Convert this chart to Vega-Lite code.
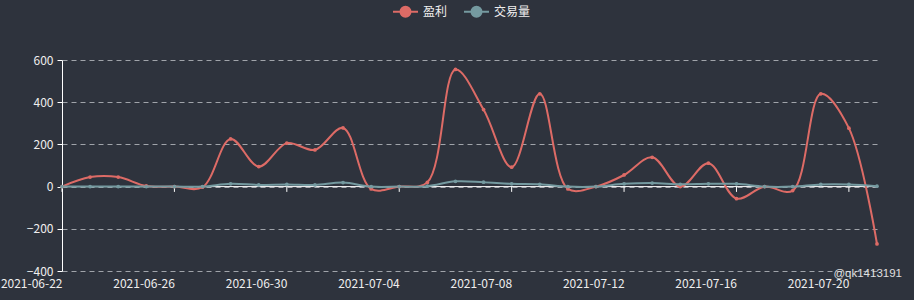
{
  "$schema": "https://vega.github.io/schema/vega-lite/v6.json",
  "autosize": {"type": "none"},
  "width": 815,
  "height": 211,
  "padding": {"left": 62, "top": 60, "right": 37, "bottom": 29},
  "background": "#2e333d",
  "config": {
    "font": "Noto Sans CJK SC",
    "view": {"stroke": null},
    "axis": {"labelFont": "Noto Sans CJK SC", "labelColor": "#eeeeee", "labelFontSize": 12}
  },
  "datasets": {
    "main": [
      {"date": "2021-06-22", "series": "盈利", "value": 0},
      {"date": "2021-06-23", "series": "盈利", "value": 45},
      {"date": "2021-06-24", "series": "盈利", "value": 45},
      {"date": "2021-06-25", "series": "盈利", "value": 3},
      {"date": "2021-06-26", "series": "盈利", "value": 0},
      {"date": "2021-06-27", "series": "盈利", "value": -3},
      {"date": "2021-06-28", "series": "盈利", "value": 226},
      {"date": "2021-06-29", "series": "盈利", "value": 95},
      {"date": "2021-06-30", "series": "盈利", "value": 206},
      {"date": "2021-07-01", "series": "盈利", "value": 174},
      {"date": "2021-07-02", "series": "盈利", "value": 278},
      {"date": "2021-07-03", "series": "盈利", "value": -11},
      {"date": "2021-07-04", "series": "盈利", "value": 0},
      {"date": "2021-07-05", "series": "盈利", "value": 20},
      {"date": "2021-07-06", "series": "盈利", "value": 555},
      {"date": "2021-07-07", "series": "盈利", "value": 365},
      {"date": "2021-07-08", "series": "盈利", "value": 92},
      {"date": "2021-07-09", "series": "盈利", "value": 440},
      {"date": "2021-07-10", "series": "盈利", "value": -11},
      {"date": "2021-07-11", "series": "盈利", "value": 0},
      {"date": "2021-07-12", "series": "盈利", "value": 55},
      {"date": "2021-07-13", "series": "盈利", "value": 139},
      {"date": "2021-07-14", "series": "盈利", "value": 0},
      {"date": "2021-07-15", "series": "盈利", "value": 111},
      {"date": "2021-07-16", "series": "盈利", "value": -57},
      {"date": "2021-07-17", "series": "盈利", "value": 0},
      {"date": "2021-07-18", "series": "盈利", "value": -19},
      {"date": "2021-07-19", "series": "盈利", "value": 440},
      {"date": "2021-07-20", "series": "盈利", "value": 277},
      {"date": "2021-07-21", "series": "盈利", "value": -272},
      {"date": "2021-06-22", "series": "交易量", "value": 0},
      {"date": "2021-06-23", "series": "交易量", "value": 0},
      {"date": "2021-06-24", "series": "交易量", "value": 0},
      {"date": "2021-06-25", "series": "交易量", "value": 0},
      {"date": "2021-06-26", "series": "交易量", "value": 0},
      {"date": "2021-06-27", "series": "交易量", "value": 0},
      {"date": "2021-06-28", "series": "交易量", "value": 13},
      {"date": "2021-06-29", "series": "交易量", "value": 8},
      {"date": "2021-06-30", "series": "交易量", "value": 10},
      {"date": "2021-07-01", "series": "交易量", "value": 8},
      {"date": "2021-07-02", "series": "交易量", "value": 19},
      {"date": "2021-07-03", "series": "交易量", "value": 0},
      {"date": "2021-07-04", "series": "交易量", "value": 0},
      {"date": "2021-07-05", "series": "交易量", "value": 2},
      {"date": "2021-07-06", "series": "交易量", "value": 25},
      {"date": "2021-07-07", "series": "交易量", "value": 21},
      {"date": "2021-07-08", "series": "交易量", "value": 13},
      {"date": "2021-07-09", "series": "交易量", "value": 11},
      {"date": "2021-07-10", "series": "交易量", "value": 0},
      {"date": "2021-07-11", "series": "交易量", "value": 0},
      {"date": "2021-07-12", "series": "交易量", "value": 13},
      {"date": "2021-07-13", "series": "交易量", "value": 17},
      {"date": "2021-07-14", "series": "交易量", "value": 11},
      {"date": "2021-07-15", "series": "交易量", "value": 13},
      {"date": "2021-07-16", "series": "交易量", "value": 13},
      {"date": "2021-07-17", "series": "交易量", "value": 0},
      {"date": "2021-07-18", "series": "交易量", "value": 0},
      {"date": "2021-07-19", "series": "交易量", "value": 10},
      {"date": "2021-07-20", "series": "交易量", "value": 10},
      {"date": "2021-07-21", "series": "交易量", "value": 2}
    ],
    "ticks": [
      {"date": "2021-06-22"}, {"date": "2021-06-26"}, {"date": "2021-06-30"},
      {"date": "2021-07-04"}, {"date": "2021-07-08"}, {"date": "2021-07-12"},
      {"date": "2021-07-16"}, {"date": "2021-07-20"}
    ]
  },
  "layer": [
    {
      "data": {"name": "ticks"},
      "mark": {"type": "rule", "color": "#ffffff", "strokeWidth": 1},
      "encoding": {
        "x": {"field": "date", "type": "ordinal"},
        "y": {"datum": 0, "type": "quantitative"},
        "y2": {"datum": -25}
      }
    },
    {
      "data": {"values": [{"zero": 0}]},
      "mark": {"type": "rule", "color": "#ffffff", "strokeWidth": 1},
      "encoding": {"y": {"field": "zero", "type": "quantitative"}}
    },
    {
      "data": {"name": "main"},
      "mark": {"type": "line", "interpolate": "catmull-rom", "strokeWidth": 2, "point": {"filled": true, "size": 14}},
      "encoding": {
        "x": {
          "field": "date", "type": "ordinal",
          "scale": {"type": "point", "padding": 0},
          "axis": {
            "title": null, "labelAngle": 0, "domain": false, "ticks": false, "grid": false,
            "labelPadding": 12,
            "values": ["2021-06-22", "2021-06-26", "2021-06-30", "2021-07-04", "2021-07-08", "2021-07-12", "2021-07-16", "2021-07-20"]
          }
        },
        "y": {
          "field": "value", "type": "quantitative",
          "scale": {"domain": [-400, 600], "nice": false, "zero": false},
          "axis": {
            "title": null, "values": [-400, -200, 0, 200, 400, 600],
            "domainColor": "#ffffff", "tickColor": "#ffffff", "tickSize": 5, "labelPadding": 4,
            "grid": true, "gridColor": "#a0a4aa", "gridDash": [5, 4], "gridWidth": 1
          }
        },
        "color": {
          "field": "series", "type": "nominal",
          "scale": {"domain": ["盈利", "交易量"], "range": ["#dd6b66", "#759aa0"]},
          "legend": {
            "title": null, "orient": "none", "direction": "horizontal",
            "legendX": 330, "legendY": -62,
            "symbolType": "M-1,0L-0.4,0M0.4,0L1,0M-0.4,0A0.4,0.4 0 1,0 0.4,0A0.4,0.4 0 1,0 -0.4,0Z",
            "symbolSize": 625, "symbolStrokeWidth": 2,
            "labelColor": "#eeeeee", "labelFontSize": 12, "labelFont": "Noto Sans CJK SC",
            "labelOffset": 4, "columnPadding": 12, "padding": 0,
            "encode": {"symbols": {"update": {"fill": {"scale": "color", "field": "value"}, "stroke": {"scale": "color", "field": "value"}}}}
          }
        }
      }
    },
    {
      "data": {"values": [{"date": "2021-07-21", "value": -400, "label": "@qk1413191"}]},
      "mark": {"type": "text", "color": "#f2f2f2", "fontSize": 11.5, "font": "Liberation Sans", "align": "right", "baseline": "middle", "dx": 25, "dy": 3, "opacity": 0.9},
      "encoding": {
        "x": {"field": "date", "type": "ordinal"},
        "y": {"field": "value", "type": "quantitative"},
        "text": {"field": "label"}
      }
    }
  ]
}
